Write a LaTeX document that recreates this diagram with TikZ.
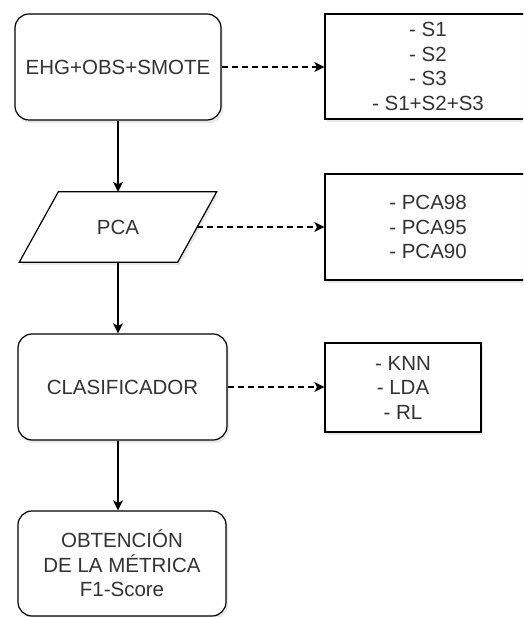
\documentclass[tikz,border=0pt]{standalone}
\usepackage{fontspec}
\setmainfont{Liberation Sans}
\usetikzlibrary{arrows.meta,shadows}
\definecolor{txt}{HTML}{333333}
\begin{document}
\begin{tikzpicture}[x=1pt,y=-1pt,
  every node/.style={font=\fontsize{20.5}{24.5}\selectfont, text=txt, align=center, inner sep=0pt},
  shad/.style={drop shadow={opacity=0.18, shadow xshift=2pt, shadow yshift=-3pt}},
  rbox/.style={draw=black, line width=1.2pt, rounded corners=14pt, fill=white, shad},
  sbox/.style={draw=black, line width=1.2pt, fill=white, shad},
  flow/.style={line width=1.3pt, -{Stealth[length=10pt,width=10pt,inset=2.5pt]}},
  dflow/.style={line width=1.2pt, dash pattern=on 6pt off 4pt, -{Stealth[length=10pt,width=10pt,inset=2.5pt]}}]
\useasboundingbox (0,0) rectangle (523,617);
\begin{scope}
\clip (0,0) rectangle (523,617);
\node[rbox, minimum width=206pt, minimum height=106pt] (ehg) at (118,67) {EHG+OBS+SMOTE};
\node[sbox, minimum width=206pt, minimum height=105pt] (s) at (428,66.5) {- S1\\- S2\\- S3\\- S1+S2+S3};
\node[minimum width=158pt, minimum height=70pt] (pca) at (118,227) {};
\path[draw=black, line width=1.2pt, fill=white, shad]
  ([xshift=19.5pt]pca.north west) -- ([xshift=19.5pt]pca.north east)
  -- ([xshift=-19.5pt]pca.south east) -- ([xshift=-19.5pt]pca.south west) -- cycle;
\node at (pca) {PCA};
\node[sbox, minimum width=206pt, minimum height=106pt] (pcab) at (428,227) {- PCA98\\- PCA95\\- PCA90};
\node[rbox, minimum width=209pt, minimum height=106pt] (cla) at (122.5,387) {CLASIFICADOR};
\node[sbox, minimum width=156pt, minimum height=89pt] (knn) at (403,387.5) {- KNN\\- LDA\\- RL};
\node[rbox, minimum width=208pt, minimum height=105pt] (obt) at (122,563.5) {OBTENCIÓN\\DE LA MÉTRICA\\F1-Score};
\draw[flow] (ehg.south -| pca.south) -- (pca.north);
\draw[flow] (pca.south) -- (pca.south |- cla.north);
\draw[flow] (pca.south |- cla.south) -- (pca.south |- obt.north);
\draw[dflow] (ehg.east) -- (ehg.east -| s.west);
\draw[dflow] (pca.east) -- (pca.east -| pcab.west);
\draw[dflow] (cla.east) -- (cla.east -| knn.west);
\end{scope}
\end{tikzpicture}
\end{document}
